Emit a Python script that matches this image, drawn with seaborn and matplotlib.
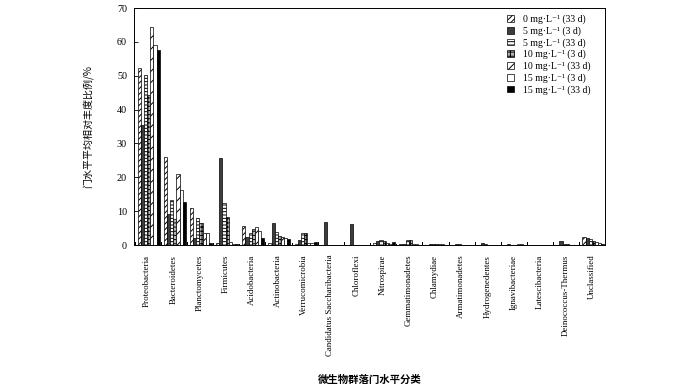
import numpy as np
import pandas as pd
import matplotlib
matplotlib.use("Agg")
import matplotlib.pyplot as plt
import matplotlib.patches as mpatches
import seaborn as sns

# ------------------------------------------
# Daten
# ------------------------------------------
phyla = [
    "Proteobacteria", "Bacteroidetes", "Planctomycetes", "Firmicutes",
    "Acidobacteria", "Actinobacteria", "Verrucomicrobia",
    "Candidatus Saccharibacteria", "Chloroflexi", "Nitrospirae",
    "Gemmatimonadetes", "Chlamydiae", "Armatimonadetes", "Hydrogenedentes",
    "Ignavibacteriae", "Latescibacteria", "Deinococcus-Thermus", "Unclassified",
]

series = [
    "0 mg·L⁻¹ (3 d)",     # ohne Legendeneintrag
    "0 mg·L⁻¹ (33 d)",
    "5 mg·L⁻¹ (3 d)",
    "5 mg·L⁻¹ (33 d)",
    "10 mg·L⁻¹ (3 d)",
    "10 mg·L⁻¹ (33 d)",
    "15 mg·L⁻¹ (3 d)",
    "15 mg·L⁻¹ (33 d)",
]

v_0_3   = [0.9, 1.0, 0.8, 0.7, 0.4, 1.0, 0.5, 0.8, 0.9, 0.7, 0.3, 0.8, 0.8, 0.9, 0.9, 0.9, 0.9, 1.0]
v_0_33  = [52.2, 25.9, 10.8, 0.6, 5.6, 0.5, 0.3, 0.1, 0.0, 0.5, 0.2, 0.1, 0.1, 0.1, 0.0, 0.0, 0.1, 2.3]
v_5_3   = [35.4, 9.3, 2.0, 25.6, 2.3, 6.6, 1.4, 6.9, 6.1, 1.2, 0.2, 0.2, 0.4, 0.5, 0.3, 0.0, 1.1, 2.0]
v_5_33  = [50.2, 13.3, 7.9, 12.3, 3.4, 3.9, 3.4, 0.1, 0.0, 1.5, 1.4, 0.4, 0.2, 0.3, 0.1, 0.0, 0.4, 1.7]
v_10_3  = [44.3, 7.6, 6.6, 8.2, 4.6, 2.8, 3.4, 0.1, 0.0, 1.3, 1.4, 0.3, 0.1, 0.1, 0.1, 0.0, 0.2, 1.3]
v_10_33 = [64.5, 21.0, 3.6, 0.8, 5.4, 2.4, 0.5, 0.0, 0.0, 0.7, 0.3, 0.4, 0.0, 0.0, 0.2, 0.0, 0.1, 0.8]
v_15_3  = [59.1, 16.2, 3.6, 0.4, 4.0, 2.2, 0.6, 0.0, 0.0, 0.4, 0.2, 0.2, 0.0, 0.0, 0.2, 0.0, 0.1, 0.5]
v_15_33 = [57.6, 12.8, 0.5, 0.3, 2.0, 1.7, 0.8, 0.0, 0.0, 0.8, 0.1, 0.1, 0.0, 0.0, 0.1, 0.0, 0.0, 0.3]

values = [v_0_3, v_0_33, v_5_3, v_5_33, v_10_3, v_10_33, v_15_3, v_15_33]

df = pd.DataFrame([
    {"phylum": p, "series": s, "value": v}
    for s, vals in zip(series, values)
    for p, v in zip(phyla, vals)
])

# Stil pro Serie: (Füllung, Schraffur)
styles = [
    ("black", ""),
    ("white", "//////"),
    ("#3d3d3d", ""),
    ("white", "-----"),
    ("#b4b4b4", "++++"),
    ("white", "///"),
    ("white", ""),
    ("black", ""),
]

# ------------------------------------------
# Plot
# ------------------------------------------
plt.rcParams["font.family"] = ["Liberation Serif", "DejaVu Serif", "Noto Sans CJK SC"]
plt.rcParams["hatch.linewidth"] = 0.7

fig = plt.figure(figsize=(7.0, 3.87), dpi=100)
ax = fig.add_axes([134 / 700, 1 - 245 / 387, 471 / 700, 237 / 387])

sns.barplot(
    data=df, x="phylum", y="value", hue="series",
    order=phyla, hue_order=series,
    palette=["white"] * len(series),
    width=0.96, gap=0, dodge=True, errorbar=None, legend=False, ax=ax,
)

for i, cont in enumerate(ax.containers):
    fc, hatch = styles[i]
    for bar in cont.patches:
        bar.set_facecolor(fc)
        bar.set_hatch(hatch)
        bar.set_edgecolor("black")
        bar.set_linewidth(0.5)
        if i == 0:
            bar.set_width(0.04)
            bar.set_linewidth(0)

ax.set_ylim(0, 70)
ax.set_yticks(range(0, 71, 10))
ax.set_xlim(-0.5, len(phyla) - 0.5)
ax.tick_params(axis="y", direction="in", length=3, width=0.6, labelsize=7.3, pad=5)
ax.tick_params(axis="x", length=0, labelsize=6.4, pad=7)
ax.set_xticks(range(len(phyla)))
ax.set_xticklabels(phyla, rotation=90, va="top", ha="center")
for spine in ax.spines.values():
    spine.set_linewidth(0.7)

ax.set_ylabel("门水平平均相对丰度比例/%", fontsize=7.2, family=["Noto Sans CJK SC"], labelpad=17)
ax.set_xlabel("微生物群落门水平分类", fontsize=7.5, family=["Noto Sans CJK SC"],
              fontweight="bold", labelpad=13)

handles = []
for s, (fc, hatch) in zip(series[1:], styles[1:]):
    handles.append(mpatches.Patch(facecolor=fc, hatch=hatch, edgecolor="black",
                                  linewidth=0.5, label=s))
ax.legend(handles=handles, loc="upper left", bbox_to_anchor=(0.792, 0.972),
          frameon=False, fontsize=7, handlelength=0.7, handleheight=0.7,
          handletextpad=0.9, labelspacing=0.22, borderpad=0, borderaxespad=0)

fig.savefig("out.png", dpi=100)
